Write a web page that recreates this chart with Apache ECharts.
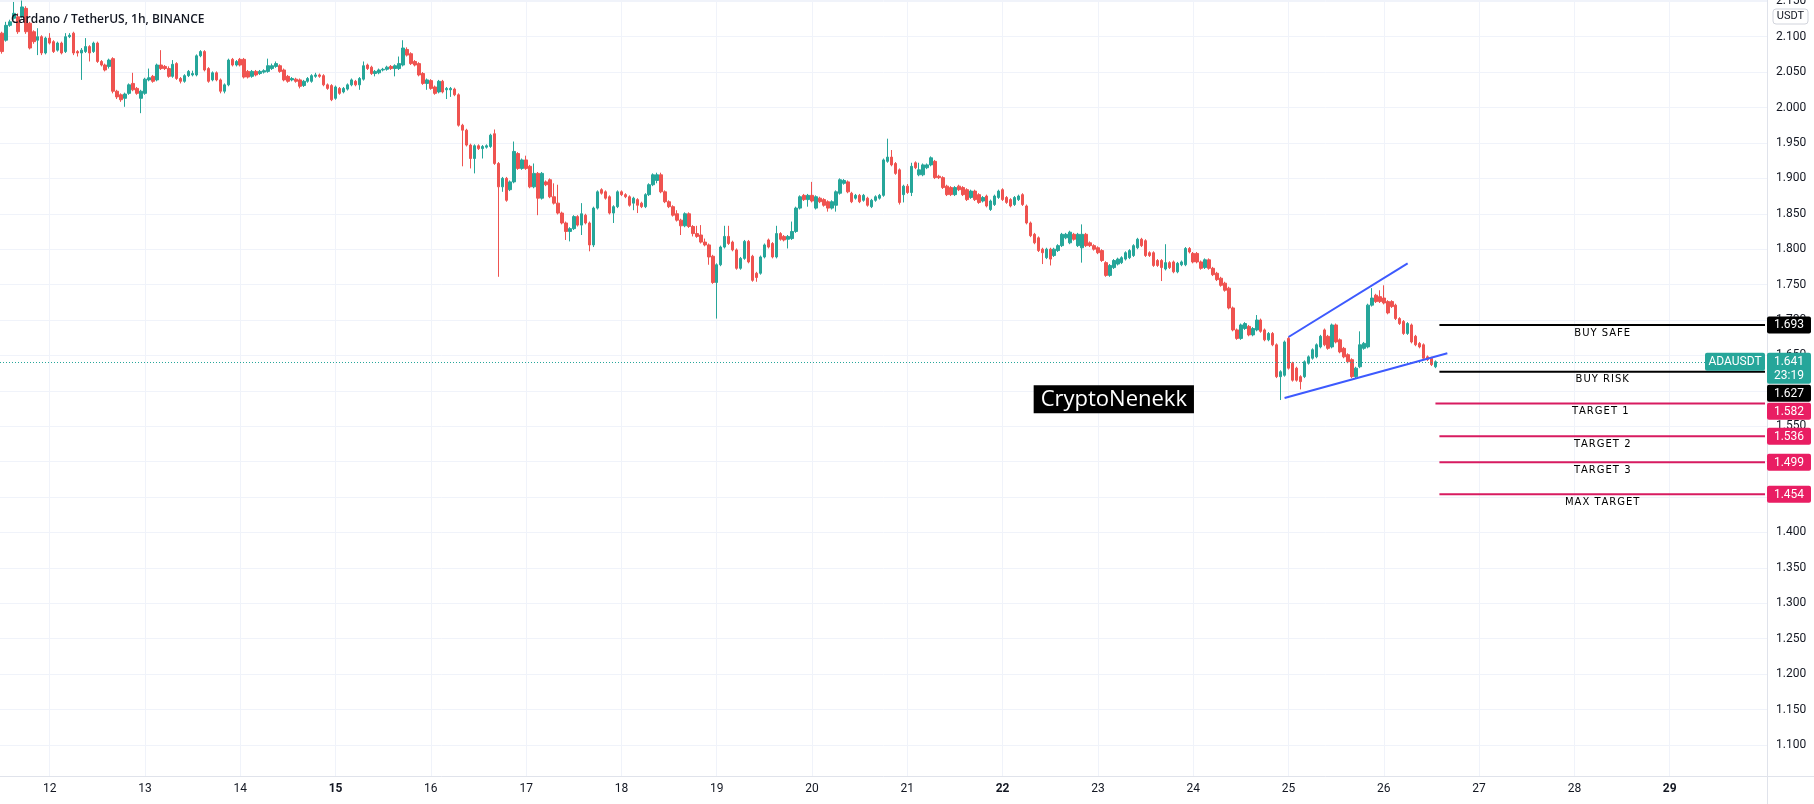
<!DOCTYPE html>
<html>
<head>
<meta charset="utf-8">
<title>ADAUSDT 1h</title>
<script src="https://cdn.jsdelivr.net/npm/echarts@6.0.0/dist/echarts.min.js"></script>
<style>
html,body{margin:0;padding:0;background:#ffffff;}
#chart{width:1814px;height:804px;}
</style>
</head>
<body>
<div id="chart"></div>
<script>
// ---------------- data ----------------
const titleText = 'Cardano / TetherUS, 1h, BINANCE';
const symbolName = 'ADAUSDT';
const quoteUnit = 'USDT';
const watermarkText = 'CryptoNenekk';
const startDay = 11, startHour = 12, slotCount = 445;   // hourly slots, first = day 11 12:00
const dayTicks = ['12','13','14','15','16','17','18','19','20','21','22','23','24','25','26','27','28','29'];
const weekStartDays = ['15','22','29'];

// hourly candles, prices in USDT x 1000
const opens = [
2105,2095,2116,2126,2128,2128,2140,2119,2107,2095,2100,2077,
2098,2093,2081,2091,2079,2100,2105,2079,2077,2079,2086,2079,
2091,2065,2060,2058,2069,2023,2018,2013,2020,2034,2027,2013,
2020,2039,2044,2039,2060,2058,2055,2044,2062,2041,2037,2045,
2046,2046,2073,2079,2055,2039,2049,2039,2023,2032,2068,2060,
2068,2068,2051,2044,2051,2048,2050,2051,2055,2058,2059,2053,
2044,2039,2040,2039,2031,2037,2037,2044,2046,2045,2032,2031,
2013,2027,2022,2026,2032,2037,2032,2040,2060,2057,2048,2049,
2053,2054,2058,2055,2055,2060,2082,2076,2065,2062,2048,2034,
2038,2029,2022,2037,2025,2025,2026,2018,1975,1968,1947,1928,
1946,1942,1944,1945,1963,1921,1888,1900,1884,1895,1935,1914,
1926,1917,1888,1907,1872,1895,1898,1874,1865,1851,1837,1825,
1829,1846,1834,1848,1837,1806,1858,1884,1881,1874,1851,1860,
1881,1877,1874,1865,1870,1865,1860,1877,1891,1897,1905,1881,
1867,1860,1850,1841,1833,1850,1832,1822,1820,1810,1806,1790,
1753,1778,1803,1818,1810,1799,1773,1787,1811,1790,1766,1766,
1789,1813,1808,1789,1822,1818,1814,1815,1825,1858,1876,1870,
1876,1858,1872,1870,1867,1858,1862,1879,1893,1895,1879,1872,
1876,1869,1872,1860,1869,1872,1876,1924,1930,1921,1912,1877,
1889,1880,1922,1905,1905,1915,1919,1924,1903,1901,1889,1887,
1877,1889,1887,1884,1873,1882,1877,1868,1875,1856,1863,1873,
1884,1873,1870,1863,1870,1877,1861,1837,1821,1816,1800,1788,
1800,1791,1798,1805,1816,1809,1821,1805,1802,1821,1809,1805,
1802,1798,1781,1763,1774,1779,1781,1786,1788,1791,1802,1814,
1812,1795,1795,1784,1784,1772,1781,1782,1768,1778,1778,1801,
1794,1794,1782,1774,1785,1773,1766,1759,1752,1745,1717,1686,
1674,1688,1691,1679,1686,1700,1686,1672,1681,1665,1620,1622,
1674,1639,1632,1620,1620,1639,1646,1648,1662,1686,1677,1662,
1693,1672,1660,1651,1644,1620,1634,1660,1662,1721,1735,1733,
1731,1726,1726,1721,1702,1698,1681,1693,1677,1667,1665,1648,
1646,1634];
const closes = [
2079,2116,2121,2133,2107,2142,2107,2084,2093,2100,2077,2098,
2091,2079,2091,2077,2100,2102,2077,2077,2081,2086,2077,2091,
2065,2060,2053,2067,2023,2015,2011,2019,2032,2025,2020,2023,
2040,2042,2037,2060,2055,2055,2044,2061,2041,2037,2045,2051,
2048,2073,2079,2053,2037,2049,2039,2023,2032,2067,2060,2065,
2060,2043,2043,2051,2046,2051,2052,2059,2059,2062,2051,2039,
2037,2041,2037,2030,2037,2041,2045,2046,2044,2032,2027,2011,
2029,2020,2027,2032,2039,2032,2041,2059,2055,2048,2051,2053,
2054,2057,2055,2059,2062,2084,2074,2062,2060,2046,2034,2039,
2027,2020,2037,2022,2027,2027,2018,1975,1968,1947,1928,1946,
1942,1945,1946,1961,1921,1888,1900,1869,1895,1938,1914,1926,
1914,1888,1907,1872,1907,1891,1874,1865,1851,1837,1825,1829,
1846,1834,1850,1837,1806,1858,1881,1879,1872,1851,1860,1881,
1877,1874,1862,1872,1862,1860,1877,1891,1905,1905,1881,1867,
1860,1848,1841,1833,1850,1832,1822,1818,1810,1806,1789,1753,
1778,1803,1818,1808,1799,1773,1787,1811,1782,1756,1760,1789,
1806,1803,1789,1822,1814,1813,1818,1825,1858,1874,1870,1876,
1868,1874,1867,1862,1858,1867,1881,1898,1897,1881,1867,1876,
1867,1876,1862,1869,1874,1876,1926,1930,1919,1907,1866,1889,
1880,1917,1915,1912,1919,1919,1929,1901,1901,1887,1877,1877,
1887,1884,1877,1870,1882,1870,1866,1873,1861,1868,1875,1882,
1870,1866,1861,1873,1875,1863,1837,1819,1809,1798,1795,1800,
1786,1800,1805,1821,1821,1824,1814,1821,1821,1805,1805,1800,
1795,1784,1763,1777,1784,1786,1788,1795,1798,1805,1814,1805,
1791,1791,1777,1777,1774,1781,1774,1768,1780,1782,1801,1796,
1782,1782,1773,1785,1773,1764,1757,1749,1742,1717,1686,1674,
1693,1695,1679,1688,1700,1684,1672,1681,1665,1620,1627,1669,
1632,1615,1615,1613,1641,1648,1658,1665,1677,1665,1660,1693,
1669,1655,1648,1641,1620,1632,1665,1667,1721,1731,1726,1726,
1724,1710,1719,1702,1695,1681,1695,1669,1665,1662,1646,1644,
1637,1641];
const lows = [
2076,2093,2114,2124,2104,2126,2104,2082,2090,2074,2074,2075,
2089,2077,2079,2075,2077,2098,2074,2072,2039,2077,2065,2077,
2063,2058,2051,2055,2020,2012,2008,2001,2018,2023,2018,1992,
2018,2037,2035,2037,2053,2053,2042,2042,2039,2034,2035,2043,
2044,2044,2071,2051,2035,2037,2037,2020,2020,2030,2058,2058,
2058,2041,2041,2042,2044,2046,2048,2049,2053,2056,2049,2037,
2035,2037,2035,2027,2029,2035,2035,2042,2042,2030,2025,2009,
2011,2018,2020,2024,2030,2030,2025,2038,2053,2046,2044,2047,
2051,2052,2053,2044,2053,2058,2072,2060,2058,2044,2032,2025,
2025,2018,2020,2020,2012,2015,2016,1973,1917,1945,1914,1907,
1940,1928,1942,1943,1919,1761,1881,1867,1882,1893,1912,1912,
1912,1886,1886,1848,1870,1889,1872,1863,1849,1835,1813,1811,
1827,1832,1820,1835,1797,1803,1856,1877,1870,1849,1837,1858,
1875,1872,1860,1855,1851,1858,1858,1875,1889,1893,1879,1865,
1858,1846,1839,1820,1831,1830,1818,1816,1808,1804,1778,1751,
1702,1776,1801,1806,1797,1771,1771,1785,1780,1754,1754,1764,
1787,1801,1787,1787,1812,1811,1801,1813,1823,1856,1868,1860,
1866,1856,1865,1860,1853,1856,1853,1877,1891,1879,1865,1870,
1865,1867,1860,1858,1867,1870,1874,1922,1917,1905,1863,1866,
1878,1875,1913,1903,1903,1913,1917,1899,1899,1885,1875,1875,
1875,1882,1875,1868,1871,1868,1864,1866,1859,1854,1861,1871,
1868,1864,1859,1861,1868,1861,1835,1817,1807,1796,1779,1786,
1777,1789,1796,1803,1814,1807,1812,1803,1781,1803,1803,1798,
1793,1782,1761,1761,1772,1777,1779,1784,1786,1789,1800,1803,
1789,1789,1775,1775,1755,1770,1772,1766,1766,1776,1776,1794,
1780,1780,1771,1772,1771,1762,1755,1747,1740,1715,1684,1672,
1672,1686,1677,1677,1684,1682,1670,1670,1663,1618,1587,1620,
1630,1613,1613,1602,1618,1637,1644,1646,1660,1663,1658,1660,
1667,1653,1646,1639,1618,1618,1632,1658,1660,1719,1724,1724,
1722,1708,1717,1700,1693,1679,1679,1667,1663,1660,1644,1642,
1635,1632];
const highs = [
2107,2121,2124,2149,2133,2151,2143,2121,2109,2112,2102,2100,
2105,2095,2093,2093,2105,2105,2107,2081,2084,2098,2088,2093,
2093,2067,2062,2069,2071,2025,2020,2021,2034,2049,2029,2025,
2042,2055,2046,2062,2081,2060,2058,2067,2064,2043,2047,2053,
2052,2075,2081,2081,2057,2051,2051,2041,2034,2069,2070,2067,
2070,2070,2053,2053,2053,2053,2054,2069,2062,2065,2061,2055,
2046,2043,2042,2041,2039,2043,2047,2049,2048,2047,2034,2033,
2031,2029,2029,2034,2041,2039,2043,2065,2062,2059,2053,2055,
2056,2059,2060,2061,2072,2095,2085,2078,2067,2064,2050,2041,
2040,2031,2039,2039,2029,2029,2028,2020,1977,1970,1949,1948,
1948,1947,1948,1963,1969,1923,1902,1902,1897,1952,1937,1928,
1932,1919,1921,1909,1909,1897,1900,1893,1891,1853,1839,1831,
1848,1848,1865,1850,1839,1860,1883,1886,1883,1876,1862,1883,
1883,1879,1876,1874,1872,1867,1879,1893,1907,1908,1908,1883,
1869,1862,1855,1843,1852,1852,1834,1833,1834,1815,1808,1792,
1780,1805,1833,1833,1812,1801,1789,1813,1813,1792,1768,1791,
1808,1815,1810,1833,1824,1820,1820,1839,1860,1876,1878,1878,
1895,1876,1874,1872,1869,1869,1883,1900,1899,1897,1881,1878,
1878,1878,1874,1871,1876,1878,1928,1956,1940,1923,1914,1891,
1892,1922,1924,1922,1921,1921,1931,1926,1905,1903,1891,1889,
1889,1891,1889,1886,1884,1884,1879,1875,1877,1870,1877,1884,
1886,1875,1872,1875,1877,1879,1863,1839,1823,1818,1802,1802,
1802,1802,1807,1823,1823,1826,1823,1823,1835,1823,1811,1807,
1804,1800,1783,1779,1786,1788,1790,1797,1800,1807,1816,1816,
1814,1797,1797,1786,1786,1807,1783,1784,1782,1784,1803,1803,
1796,1796,1784,1787,1787,1775,1768,1761,1754,1747,1719,1688,
1695,1697,1693,1690,1707,1702,1688,1683,1683,1667,1629,1671,
1676,1641,1634,1622,1643,1650,1660,1667,1679,1688,1679,1695,
1695,1674,1662,1653,1646,1634,1684,1669,1723,1745,1737,1742,
1749,1728,1728,1723,1704,1700,1697,1695,1679,1669,1667,1650,
1648,1643];

const lastPrice = 1.641;
const countdown = '23:19';

// horizontal levels drawn on the chart
const levelNames  = ['BUY SAFE', 'BUY RISK', 'TARGET 1', 'TARGET 2', 'TARGET 3', 'MAX TARGET'];
const levelPrices = [1.693, 1.627, 1.582, 1.536, 1.499, 1.454];
const levelStart  = [362, 362, 361, 362, 362, 362];   // slot index where each line begins
const levelKind   = ['buy', 'buy', 'target', 'target', 'target', 'target'];

// rising wedge trend lines: [slot index, price]
const wedgeUpper = [[324, 1.676], [354, 1.780]];
const wedgeLower = [[323, 1.590], [364, 1.653]];

// watermark label anchor: [slot index, price]
const watermarkAnchor = [280, 1.588];

// price axis extent
const yMin = 1.0562, yMax = 2.1518, yStep = 0.05;

// ---------------- styles ----------------
const UP = '#26a69a', DOWN = '#ef5350', GRID = '#f0f3fa', AXIS = '#e0e3eb', TEXT = '#131722';
const BUY_COLOR = '#000000', TARGET_LINE = '#d81b60', TARGET_BOX = '#e91e63', WEDGE = '#3d5afe';
const GRID_RIGHT = 47, GRID_BOTTOM = 28;

// ---------------- build ----------------
const categories = [];
for (let k = 0; k < slotCount; k++) {
  const t = startHour + k;
  const d = startDay + Math.floor(t / 24);
  const h = t % 24;
  categories.push(d + ' ' + (h < 10 ? '0' + h : h) + ':00');
}
const isDayTick = (idx, v) => v.slice(-6) === ' 00:00' && dayTicks.indexOf(v.split(' ')[0]) >= 0;

const n = Math.min(opens.length, closes.length, lows.length, highs.length);
const candleData = [];
for (let i = 0; i < n; i++) {
  candleData.push([opens[i] / 1000, closes[i] / 1000, lows[i] / 1000, highs[i] / 1000]);
}

const series = [{
  type: 'candlestick',
  data: candleData,
  barWidth: 3,
  itemStyle: { color: UP, color0: DOWN, borderColor: UP, borderColor0: DOWN, borderWidth: 1 },
  markLine: {
    silent: true, symbol: ['none', 'none'], label: { show: false },
    lineStyle: { color: UP, type: [1, 2], width: 1 },
    data: [{ yAxis: lastPrice }], animation: false
  },
  z: 2
}];
levelPrices.forEach((p, k) => {
  series.push({
    type: 'line', silent: true, symbol: 'none', z: 4,
    data: [[levelStart[k], p], [slotCount - 1, p]],
    lineStyle: { color: levelKind[k] === 'buy' ? BUY_COLOR : TARGET_LINE, width: 2 }
  });
});
[wedgeUpper, wedgeLower].forEach(w => {
  series.push({ type: 'line', silent: true, symbol: 'none', z: 5, data: w, lineStyle: { color: WEDGE, width: 2 } });
});

const option = {
  animation: false,
  backgroundColor: '#ffffff',
  textStyle: { fontFamily: 'Roboto' },
  title: {
    text: titleText, left: 6, top: 9, z: 20,
    textStyle: { fontFamily: 'Open Sans', fontSize: 12, fontWeight: 600, color: TEXT }
  },
  grid: { left: 0, right: GRID_RIGHT, top: 0, bottom: GRID_BOTTOM, containLabel: false, outerBoundsMode: 'none' },
  xAxis: {
    type: 'category', data: categories, boundaryGap: true,
    axisLine: { show: true, lineStyle: { color: AXIS } },
    axisTick: { show: false, alignWithLabel: true, interval: isDayTick },
    axisLabel: {
      interval: isDayTick, margin: 7, color: TEXT, fontSize: 12,
      formatter: v => { const d = v.split(' ')[0]; return weekStartDays.indexOf(d) >= 0 ? '{b|' + d + '}' : '{n|' + d + '}'; },
      rich: {
        b: { fontWeight: 'bold', fontSize: 12, color: TEXT, fontFamily: 'Roboto' },
        n: { fontSize: 12, color: TEXT, fontFamily: 'Roboto' }
      }
    },
    splitLine: { show: true, interval: isDayTick, alignWithLabel: true, lineStyle: { color: GRID, width: 1 } }
  },
  yAxis: {
    type: 'value', position: 'right', min: yMin, max: yMax, minInterval: yStep, maxInterval: yStep, splitNumber: 22,
    axisLine: { show: true, lineStyle: { color: AXIS } },
    axisTick: { show: false },
    axisLabel: { color: TEXT, fontSize: 12, margin: 9, showMinLabel: false, showMaxLabel: false, formatter: v => v.toFixed(3) },
    splitLine: { show: true, lineStyle: { color: GRID, width: 1 } }
  },
  series: series
};

const chart = echarts.init(document.getElementById('chart'));
chart.setOption(option);

// ---------------- overlay labels positioned through the chart's scales ----------------
const W = chart.getWidth(), H = chart.getHeight();
const axisX = W - GRID_RIGHT;
const axisBottom = H - GRID_BOTTOM;
const py = p => chart.convertToPixel({ yAxisIndex: 0 }, p);
const pxy = (i, p) => chart.convertToPixel({ xAxisIndex: 0, yAxisIndex: 0 }, [i, p]);

const gfx = [];
// extend axis borders into the corner
gfx.push({ type: 'line', z: 50, shape: { x1: axisX, y1: axisBottom + 0.5, x2: W, y2: axisBottom + 0.5 }, style: { stroke: AXIS, lineWidth: 1 } });
gfx.push({ type: 'line', z: 50, shape: { x1: axisX + 0.5, y1: axisBottom, x2: axisX + 0.5, y2: H }, style: { stroke: AXIS, lineWidth: 1 } });

// level captions under each line
levelPrices.forEach((p, k) => {
  const a = pxy(levelStart[k], p), b = pxy(slotCount - 1, p);
  gfx.push({ type: 'text', z: 60, style: {
    text: levelNames[k].split('').join('\u200A'), x: (a[0] + b[0]) / 2, y: a[1] + 8, align: 'center', verticalAlign: 'middle',
    font: '10px "DejaVu Sans"', fill: '#000000' } });
});

// price-axis tags, stacked so they do not overlap
const tags = [];
levelPrices.forEach((p, k) => tags.push({ y: py(p), h: 17, text: p.toFixed(3), fill: levelKind[k] === 'buy' ? BUY_COLOR : TARGET_BOX, off: 8.5 }));
tags.push({ y: py(lastPrice), h: 31, text: lastPrice.toFixed(3) + '\n' + countdown, fill: UP, off: 9 });
tags.sort((a, b) => a.y - b.y);
let prevBottom = -1e9;
tags.forEach(t => {
  let top = Math.max(t.y - t.off, prevBottom + 1);
  prevBottom = top + t.h;
  gfx.push({ type: 'rect', z: 70, shape: { x: axisX, y: top, width: 44, height: t.h, r: 2 }, style: { fill: t.fill } });
  gfx.push({ type: 'text', z: 71, style: {
    text: t.text, x: axisX + 22, y: top + t.h / 2 + 0.5, align: 'center', verticalAlign: 'middle',
    font: '12px Roboto', fill: '#ffffff', lineHeight: 14 } });
});

// symbol tag left of the axis
const yl = py(lastPrice);
gfx.push({ type: 'rect', z: 70, shape: { x: axisX - 62, y: yl - 9, width: 60, height: 18, r: 2 }, style: { fill: UP } });
gfx.push({ type: 'text', z: 71, style: { text: symbolName, x: axisX - 32, y: yl + 0.5, align: 'center', verticalAlign: 'middle', font: '12px Roboto', fill: '#ffffff' } });

// quote unit badge
gfx.push({ type: 'rect', z: 80, shape: { x: axisX + 6, y: 9, width: 35, height: 15, r: 3 }, style: { fill: '#ffffff', stroke: '#d1d4dc', lineWidth: 1 } });
gfx.push({ type: 'text', z: 81, style: { text: quoteUnit, x: axisX + 23.5, y: 16.5, align: 'center', verticalAlign: 'middle', font: '11px Roboto', fill: TEXT } });

// watermark label
const wm = pxy(watermarkAnchor[0], watermarkAnchor[1]);
gfx.push({ type: 'text', z: 60, style: {
  text: watermarkText, x: wm[0], y: wm[1], align: 'center', verticalAlign: 'middle',
  font: '22px "Open Sans"', fill: '#ffffff', backgroundColor: '#000000', padding: [3, 7, 3, 7] } });

chart.setOption({ graphic: { elements: gfx } });
</script>
</body>
</html>
